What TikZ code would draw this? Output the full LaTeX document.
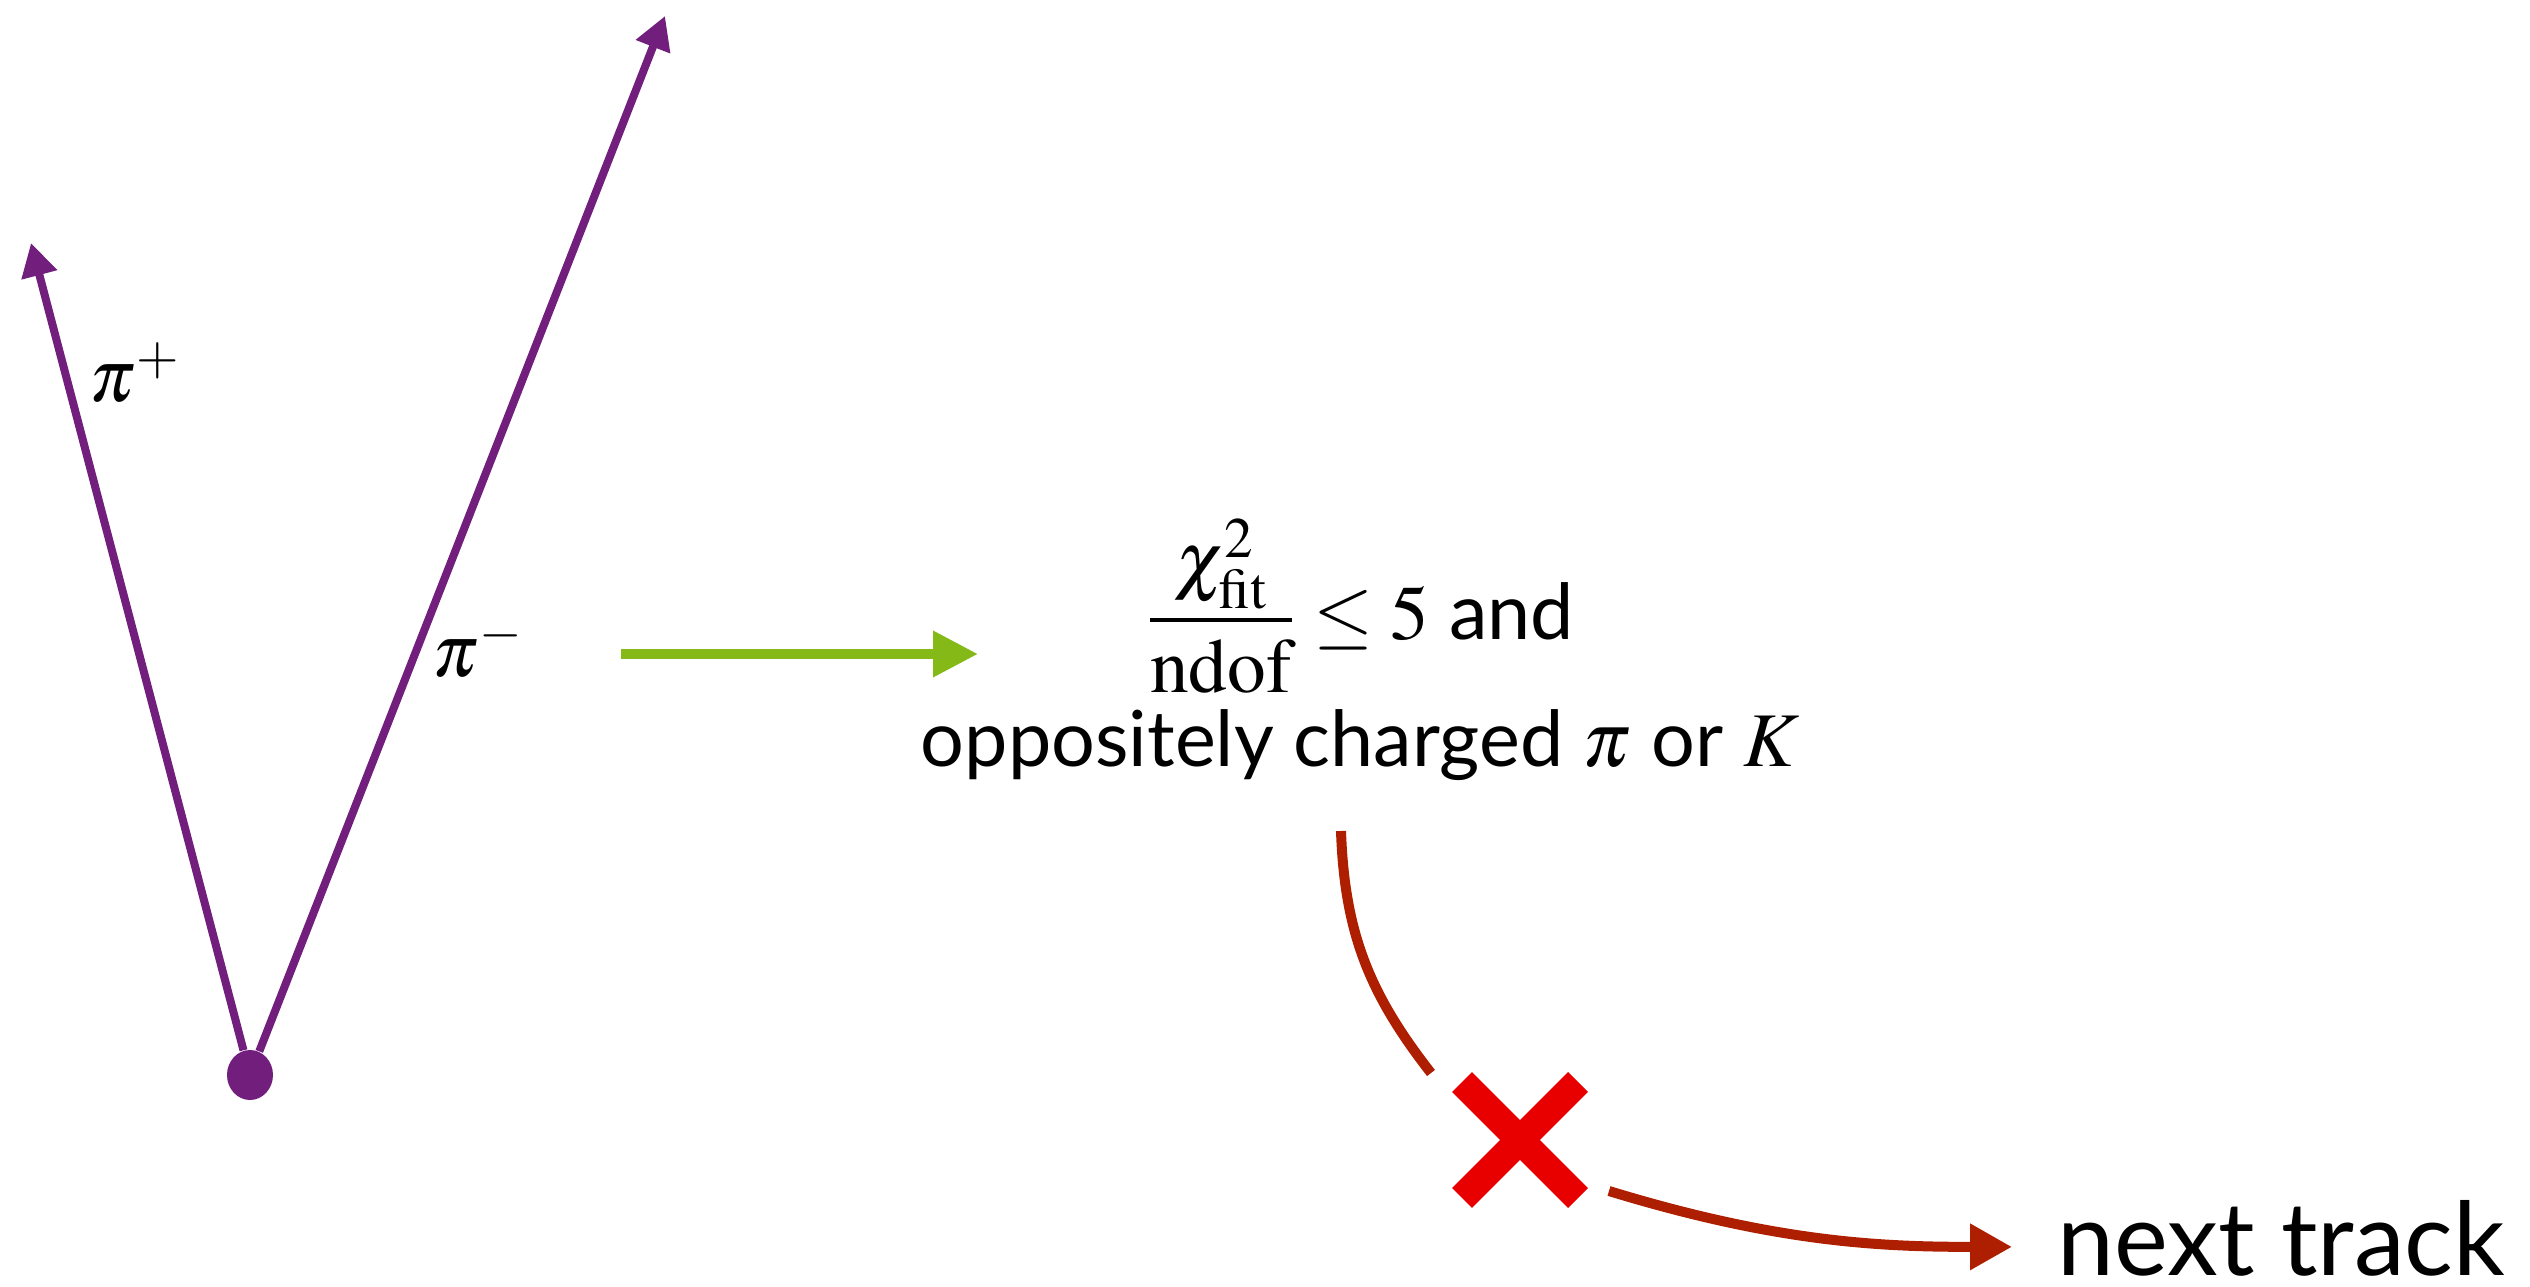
\documentclass[tikz,border=0pt]{standalone}
\usepackage{mathptmx}
\usepackage[no-math]{fontspec}
\setmainfont{Lato}
\usetikzlibrary{arrows.meta, positioning, shapes.geometric, shapes.misc}
\definecolor{trackpurple}{RGB}{114,30,124}
\definecolor{passgreen}{RGB}{132,185,24}
\definecolor{faildarkred}{RGB}{174,30,0}
\definecolor{crossred}{RGB}{232,0,0}
\tikzset{
  vertexnode/.style={
    ellipse, fill=trackpurple, inner sep=0pt,
    minimum width=0.46cm, minimum height=0.50cm
  },
  labelnode/.style={font=\fontsize{21}{25}\selectfont, inner sep=0pt},
  condnode/.style={font=\fontsize{22}{26}\selectfont, inner sep=0pt},
  nextnode/.style={font=\fontsize{29}{35}\selectfont, inner sep=0pt},
  crossnode/.style={
    cross out, draw=crossred, line width=2.8mm,
    minimum size=0.88cm, inner sep=0pt
  },
  trackarrow/.style={-{Triangle[length=3.3mm, width=3.5mm]}, line width=0.8mm, trackpurple},
  passarrow/.style={-{Triangle[length=4.5mm, width=4.4mm]}, line width=1mm, passgreen},
  failline/.style={line width=1mm, faildarkred},
  failarrow/.style={failline, -{Triangle[length=4.2mm, width=4.4mm]}}
}
\begin{document}
\begin{tikzpicture}
  \useasboundingbox (0,0) rectangle (25.30,12.86);

  % Decay vertex and tracks
  \node[vertexnode] (vtx) at (2.50,2.11) {};
  \coordinate (pplus) at (0.31,10.43);
  \coordinate (pminus) at (6.65,12.70);
  \draw[trackarrow] (vtx) -- (pplus);
  \draw[trackarrow] (vtx) -- (pminus);
  \node[labelnode] (lplus) at (1.35,9.13) {$\pi^+$};
  \node[labelnode] (lminus) at (4.78,6.38) {$\pi^-$};

  % Selection criteria
  \node[condnode] (cond1) at (13.60,6.80)
    {$\displaystyle\frac{\chi^2_{\mathrm{fit}}}{\mathrm{ndof}}\leq 5$ and};
  \node[condnode, anchor=base] (cond2) at (13.60,5.20)
    {oppositely charged $\pi$ or $K$};

  % Pass arrow
  \coordinate (gin) at (6.21,6.32);
  \coordinate (gout) at (9.78,6.32);
  \draw[passarrow] (gin) -- (gout);

  % Fail branch
  \coordinate (fin) at (13.41,4.55);
  \coordinate (fmid) at (14.31,2.13);
  \node[crossnode] (cross) at (15.20,1.46) {};
  \coordinate (fout) at (16.09,0.95);
  \node[nextnode, anchor=base west] (next) at (20.57,0.11) {next track};
  \draw[failline] (fin) to[out=-88, in=128] (fmid);
  \draw[failarrow, shorten >=4.5mm] (fout) to[out=-17, in=180] ([yshift=-0.9mm]next.west);

\end{tikzpicture}
\end{document}
